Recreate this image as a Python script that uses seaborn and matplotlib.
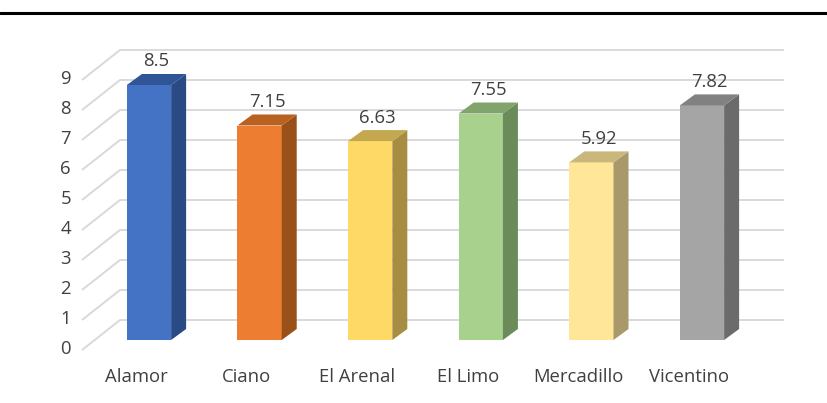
import matplotlib
matplotlib.use("Agg")
import matplotlib.pyplot as plt
from matplotlib.patches import Polygon
from matplotlib.lines import Line2D
import seaborn as sns
import pandas as pd

categories = ["Alamor", "Ciano", "El Arenal", "El Limo", "Mercadillo", "Vicentino"]
values = [8.5, 7.15, 6.63, 7.55, 5.92, 7.82]
value_labels = ["8.5", "7.15", "6.63", "7.55", "5.92", "7.82"]
y_ticks = [0, 1, 2, 3, 4, 5, 6, 7, 8, 9]

front_colors = ["#4472C4", "#ED7D31", "#FFD966", "#A9D18E", "#FFE699", "#A5A5A5"]
top_colors = ["#2F5597", "#B9611F", "#C4A84F", "#80A46B", "#C9B77C", "#818181"]
side_colors = ["#2A4A85", "#9A5019", "#A68D41", "#6C8B5B", "#A9996A", "#6B6B6B"]

sns.set_theme(style="white")
plt.rcParams["font.family"] = ["Open Sans", "DejaVu Sans"]

W, H = 827, 403
fig = plt.figure(figsize=(W / 100, H / 100), dpi=100)
ax = fig.add_axes([0, 0, 1, 1])

# pixel geometry: bar spacing 110.6 px, first bar centre at 149 px, 30 px per unit, floor at 340 px
px_x = 110.6
px_y = 30.0
x0 = 149.0
floor = 340.0
FS = 13.3
TXT = "#404040"

# 3D back-wall grid
back_dy = 20 / px_y
front_dy = -10 / px_y
x_front_left = (82 - x0) / px_x
x_back_left = (120 - x0) / px_x
x_back_right = (784 - x0) / px_x
for v in y_ticks:
    ax.plot([x_front_left, x_back_left, x_back_right],
            [v + front_dy, v + back_dy, v + back_dy],
            color="#D9D9D9", lw=1.4, zorder=0, solid_capstyle="butt")
    ax.text((71 - x0) / px_x, v + front_dy + 0.03, str(v), ha="right", va="center",
            fontsize=FS, color=TXT)

df = pd.DataFrame({"cat": categories, "val": values})
sns.barplot(data=df, x="cat", y="val", hue="cat", palette=front_colors, legend=False,
            width=0.4, ax=ax, saturation=1, zorder=3, linewidth=0)
ax.set_xlim((0 - x0) / px_x, (W - x0) / px_x)
ax.set_ylim((floor - H) / px_y, floor / px_y)
ax.axis("off")

ddx = 15 / px_x
ddy = 11 / px_y
for i, p in enumerate(ax.patches[:len(values)]):
    xl = p.get_x()
    xr = xl + p.get_width()
    yt = p.get_height()
    side = Polygon([(xr, 0), (xr + ddx, ddy), (xr + ddx, yt + ddy), (xr, yt)],
                   closed=True, facecolor=side_colors[i], edgecolor="none", zorder=3)
    top = Polygon([(xl, yt), (xl + ddx, yt + ddy), (xr + ddx, yt + ddy), (xr, yt)],
                  closed=True, facecolor=top_colors[i], edgecolor="none", zorder=3)
    ax.add_patch(side)
    ax.add_patch(top)
    ax.text(xl + p.get_width() / 2 + ddx / 2, yt + ddy + 0.42, value_labels[i],
            ha="center", va="center", fontsize=FS, color=TXT, zorder=4)
    ax.text(i - 13 / px_x, (floor - 377) / px_y, categories[i], ha="center", va="center",
            fontsize=FS, color=TXT)

fig.add_artist(Line2D([0.0, 1.0], [1 - 13 / H, 1 - 13 / H], color="black", lw=2.2,
                      transform=fig.transFigure))

fig.savefig("out.png", dpi=100)
